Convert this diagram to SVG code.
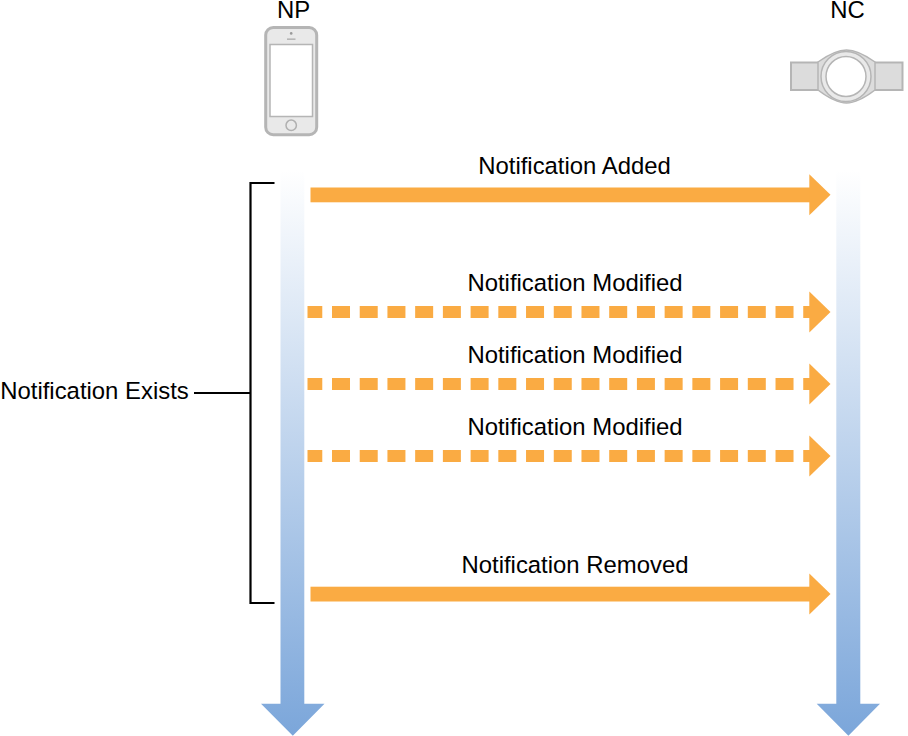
<svg xmlns="http://www.w3.org/2000/svg" width="908" height="736" viewBox="0 0 908 736">
<style>
text{font-family:"Liberation Sans",Arial,sans-serif;font-size:23.9px;fill:#000;text-anchor:middle}
.sh{fill:#faab43}
.dash{fill:none;stroke:#faab43;stroke-width:12;stroke-dasharray:18 9.72;stroke-dashoffset:3.22}
.lt{fill:none;stroke:#000;stroke-width:2.2}
.g1{fill:#e9e9e9;stroke:#b5b5b5;stroke-width:3}
.g2{fill:#dcdcdc;stroke:#b5b5b5;stroke-width:2}
</style>
<defs>
<linearGradient id="b1" gradientUnits="userSpaceOnUse" x1="0" y1="170" x2="0" y2="736"><stop offset="0" stop-color="#fff"/><stop offset="1" stop-color="#7ba6da"/></linearGradient>
<path id="oh" d="M809.3 174.3 L830.5 194.8 L809.3 215.3Z"/>
</defs>
<rect width="908" height="736" fill="#fff"/>
<g id="np"><text x="293.5" y="18">NP</text>
<rect class="g1" x="265.700" y="27.500" width="51" height="107.200" rx="7.500"/>
<rect x="270" y="44.500" width="42.500" height="72" fill="#fff" stroke="#b5b5b5" stroke-width="1.500"/>
<circle cx="291.200" cy="33.400" r="1.300" fill="#999"/>
<rect x="287" y="38.500" width="8.500" height="1.300" fill="#aaa"/>
<circle cx="291.200" cy="125.300" r="5.200" fill="#e9e9e9" stroke="#b0b0b0" stroke-width="1.500"/></g>
<g id="nc"><text x="847.500" y="18">NC</text>
<rect class="g2" x="791" y="62.500" width="28" height="27.500"/>
<rect class="g2" x="874" y="62.500" width="28.500" height="27.500"/>
<path d="M818 62 Q835 50 846.500 50 Q858 50 875 62 V90 Q858 103 846.500 103 Q835 103 818 90Z" fill="#dcdcdc" stroke="#b5b5b5" stroke-width="1.500"/>
<circle cx="846" cy="76.500" r="25" fill="#e9e9e9" stroke="#b5b5b5" stroke-width="1.500"/>
<circle cx="846" cy="76.500" r="20" fill="#fff" stroke="#b5b5b5" stroke-width="1.500"/></g>
<g id="connectors">
<path id="lifeline-np" fill="url(#b1)" d="M280.500 170H304.300V703.700H324.500L292.800 735.800L261 703.700H280.500Z"/>
<path id="lifeline-nc" fill="url(#b1)" d="M836.300 170H860.300V703.700H880L848.400 735.800L816.700 703.700H836.300Z"/>
<g id="added"><rect class="sh" x="310.500" y="187.500" width="500" height="14.800"/><use href="#oh" class="sh"/></g>
<g id="mod1"><path class="dash" d="M307.500 312H810"/><use href="#oh" class="sh" y="117.200"/></g>
<g id="mod2"><path class="dash" d="M307.500 384H810"/><use href="#oh" class="sh" y="189.200"/></g>
<g id="mod3"><path class="dash" d="M307.500 456H810"/><use href="#oh" class="sh" y="261.200"/></g>
<g id="removed"><rect class="sh" x="310.500" y="586.700" width="500" height="14.800"/><use href="#oh" class="sh" y="399.200"/></g>
<path id="bracket" class="lt" d="M274.500 183H250.500V603H274.500M250.500 393H194"/>
</g>
<g id="labels">
<text x="574.500" y="173.500">Notification Added</text>
<text x="575" y="291">Notification Modified</text>
<text x="575" y="362.500">Notification Modified</text>
<text x="575" y="434.500">Notification Modified</text>
<text x="575" y="572.500">Notification Removed</text>
<text x="94.500" y="398.500">Notification Exists</text>
</g>
</svg>
